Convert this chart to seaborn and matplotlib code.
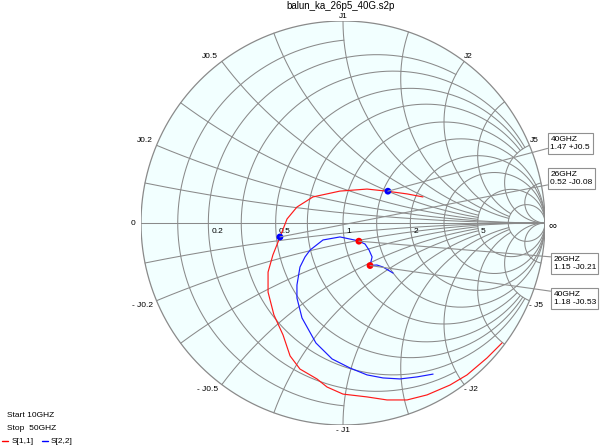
import numpy as np
import matplotlib
matplotlib.use("Agg")
import matplotlib.pyplot as plt
from matplotlib.patches import Circle
from matplotlib.lines import Line2D
import seaborn as sns
import pandas as pd

# ---------------- data ----------------
title = "balun_ka_26p5_40G.s2p"
start_text = "Start 10GHZ"
stop_text = "Stop  50GHZ"
series_names = ["S[1,1]", "S[2,2]"]

grid_vals = [0.1, 0.2, 0.33, 0.5, 0.7, 1.0, 1.4, 2.0, 3.0, 5.0, 10.0]
r_label_vals = [0.2, 0.5, 1, 2, 5]
r_label_txt = ["0.2", "0.5", "1", "2", "5"]
x_label_vals = [0.2, 0.5, 1, 2, 5]
x_label_txt = ["0.2", "0.5", "1", "2", "5"]

# S[1,1] reflection coefficient, 10 GHz -> 50 GHz
s11_re = [0.787, 0.713, 0.614, 0.530, 0.416, 0.317, 0.218, 0.119, 0.000, -0.079,
          -0.129, -0.213, -0.262, -0.297, -0.342, -0.371, -0.371, -0.347, -0.312,
          -0.277, -0.228, -0.149, -0.015, 0.119, 0.222, 0.317, 0.396]
s11_im = [-0.594, -0.668, -0.752, -0.802, -0.851, -0.876, -0.876, -0.861, -0.847, -0.812,
          -0.772, -0.723, -0.658, -0.554, -0.455, -0.342, -0.243, -0.158, -0.070,
          0.020, 0.079, 0.129, 0.158, 0.168, 0.157, 0.144, 0.129]

# S[2,2] reflection coefficient, 10 GHz -> 50 GHz
s22_re = [0.446, 0.366, 0.282, 0.198, 0.119, 0.035, -0.054, -0.134, -0.203, -0.228,
          -0.228, -0.213, -0.188, -0.163, -0.099, -0.015, 0.075, 0.109, 0.129, 0.144,
          0.134, 0.168, 0.198, 0.248]
s22_im = [-0.748, -0.762, -0.772, -0.767, -0.752, -0.718, -0.673, -0.594, -0.470, -0.371,
          -0.307, -0.218, -0.168, -0.134, -0.084, -0.069, -0.088, -0.104, -0.134, -0.168,
          -0.210, -0.208, -0.218, -0.248]

marker_freq = ["26GHZ", "40GHZ"]
s11_mk_r = [0.52, 1.47]
s11_mk_x = [-0.08, 0.5]
s11_mk_txt = ["0.52 -J0.08", "1.47 +J0.5"]
s22_mk_r = [1.15, 1.18]
s22_mk_x = [-0.21, -0.53]
s22_mk_txt = ["1.15 -J0.21", "1.18 -J0.53"]

# ---------------- style ----------------
sns.set_style("white")
plt.rcParams["font.family"] = ["Liberation Sans", "DejaVu Sans"]
W, H = 600, 448
fig = plt.figure(figsize=(W / 100, H / 100), dpi=100)
cx, cy, R = 343, 223, 202
ax = fig.add_axes([(cx - R) / W, (H - cy - R) / H, 2 * R / W, 2 * R / H])
ax.set_xlim(-1, 1)
ax.set_ylim(-1, 1)
ax.axis("off")

GRID = "#8a8a8a"
TXT = "#000000"
FS = 6


def gam(z):
    return (z - 1) / (z + 1)


ax.add_patch(Circle((0, 0), 1, facecolor="#f2ffff", edgecolor="none", zorder=0))

r_limit = {0.1: 1, 0.2: 2, 0.33: 5, 0.5: 5, 0.7: 5, 1.0: 5}
x_limit = {0.33: 5, 0.5: 5, 0.7: 5, 1.0: 5, 1.4: 10, 2.0: 10, 3.0: 10}

# resistance circles
for r in grid_vals:
    xm = r_limit.get(r, None)
    tm = np.arctan(xm) if xm else np.pi / 2 - 1e-5
    t = np.linspace(-tm, tm, 600)
    g = gam(r + 1j * np.tan(t))
    ax.plot(g.real, g.imag, color=GRID, lw=0.75, zorder=1)
# reactance arcs
for x in grid_vals:
    rm = x_limit.get(x, None)
    tm = np.arctan(rm) if rm else np.pi / 2 - 1e-5
    t = np.linspace(0, tm, 600)
    for s in (1, -1):
        g = gam(np.tan(t) + 1j * s * x)
        ax.plot(g.real, g.imag, color=GRID, lw=0.75, zorder=1)
# rim and real axis
t = np.linspace(0, 2 * np.pi, 800)
ax.plot(np.cos(t), np.sin(t), color=GRID, lw=0.9, zorder=1)
ax.plot([-1, 1], [0, 0], color=GRID, lw=0.75, zorder=1)

# axis labels
for v, s in zip(r_label_vals, r_label_txt):
    g = gam(v)
    ax.annotate(s, (g.real, 0), xytext=(3, -8), textcoords="offset pixels",
                ha="left", va="center", fontsize=FS, color=TXT)
ax.annotate("0", (-1, 0), xytext=(-6, 0), textcoords="offset pixels",
            ha="right", va="center", fontsize=FS, color=TXT)
ax.annotate("\u221e", (1, 0), xytext=(4, -2), textcoords="offset pixels",
            ha="left", va="center", fontsize=8, color=TXT)
for v, s in zip(x_label_vals, x_label_txt):
    for sign in (1, -1):
        g = gam(1j * sign * v)
        txt = ("J" if sign > 0 else "- J") + s
        dy = 5 if sign > 0 else -5
        if abs(g.real) < 0.05:
            ha, dx = "center", 0
        elif g.real < 0:
            ha, dx = "right", -4
        else:
            ha, dx = "left", 0
        ax.annotate(txt, (g.real, g.imag), xytext=(dx, dy), textcoords="offset pixels",
                    ha=ha, va="center", fontsize=FS, color=TXT)

# curves
df = pd.concat([
    pd.DataFrame({"re": s11_re, "im": s11_im, "trace": series_names[0]}),
    pd.DataFrame({"re": s22_re, "im": s22_im, "trace": series_names[1]}),
])
sns.lineplot(data=df, x="re", y="im", hue="trace", sort=False, estimator=None,
             palette={series_names[0]: "#ff1a1a", series_names[1]: "#1a1aff"},
             lw=0.85, legend=False, ax=ax, zorder=3)
ax.set_xlim(-1, 1)
ax.set_ylim(-1, 1)
ax.axis("off")

g11 = gam(np.array(s11_mk_r) + 1j * np.array(s11_mk_x))
g22 = gam(np.array(s22_mk_r) + 1j * np.array(s22_mk_x))
sns.scatterplot(x=g11.real, y=g11.imag, color="#0000ff", s=24, edgecolor="none", ax=ax, zorder=4)
sns.scatterplot(x=g22.real, y=g22.imag, color="#ff0000", s=24, edgecolor="none", ax=ax, zorder=4)
ax.set_xlim(-1, 1)
ax.set_ylim(-1, 1)
ax.axis("off")

# marker boxes (box top-left in pixels, attach relpos)
boxes = [
    (g11[1], marker_freq[1] + "\n" + s11_mk_txt[1], (548, 133), (0, 0.23)),
    (g11[0], marker_freq[0] + "\n" + s11_mk_txt[0], (548, 168), (0, 0.12)),
    (g22[0], marker_freq[0] + "\n" + s22_mk_txt[0], (551, 253), (0, 0.9)),
    (g22[1], marker_freq[1] + "\n" + s22_mk_txt[1], (551, 288), (0, 0.93)),
]
for g, s, (bx, by), rp in boxes:
    ax.annotate(s, (g.real, g.imag), xytext=(bx + 2.5, H - by - 2.5),
                textcoords="figure pixels", ha="left", va="top", fontsize=FS,
                color=TXT, linespacing=1.35, zorder=5,
                bbox=dict(boxstyle="square,pad=0.3", fc="white", ec="#909090", lw=0.8),
                arrowprops=dict(arrowstyle="-", color="#909090", lw=0.8,
                                relpos=rp, shrinkA=0, shrinkB=0))

# title and footer
fig.text(341 / W, 1 - 6 / H, title, ha="center", va="center", fontsize=7, color=TXT)
fig.text(7 / W, 1 - 415 / H, start_text, ha="left", va="center", fontsize=FS, color=TXT)
fig.text(7 / W, 1 - 428 / H, stop_text, ha="left", va="center", fontsize=FS, color=TXT)
yl = 1 - 441 / H
fig.add_artist(Line2D([2 / W, 8 / W], [yl, yl], transform=fig.transFigure, color="#ff0000", lw=1))
fig.text(12 / W, yl, series_names[0], ha="left", va="center", fontsize=FS, color=TXT)
fig.add_artist(Line2D([42 / W, 48 / W], [yl, yl], transform=fig.transFigure, color="#0000ff", lw=1))
fig.text(51 / W, yl, series_names[1], ha="left", va="center", fontsize=FS, color=TXT)

fig.savefig("out.png", dpi=100, facecolor="white")
